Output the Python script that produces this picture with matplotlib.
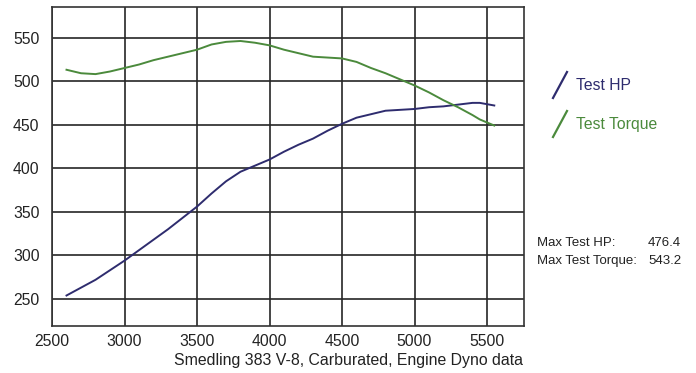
import matplotlib
matplotlib.use("Agg")
import matplotlib.pyplot as plt
from matplotlib.lines import Line2D

plt.rcParams['font.family'] = ['Liberation Sans', 'DejaVu Sans']

rpm = [2600, 2700, 2800, 2900, 3000, 3100, 3200, 3300, 3400, 3500, 3600, 3700,
       3800, 3900, 4000, 4100, 4200, 4300, 4400, 4500, 4600, 4700, 4800, 4900,
       5000, 5100, 5200, 5300, 5400, 5450, 5550]
hp = [254, 263, 272, 283, 294, 306, 318, 330, 343, 356, 371, 385,
      396, 403, 410, 419, 427, 434, 443, 451, 458, 462, 466, 467,
      468, 470, 471, 473, 475, 475, 472]
torque = [513, 509, 508, 511, 515, 519, 524, 528, 532, 536, 542, 545,
          546, 544, 541, 536, 532, 528, 527, 526, 522, 515, 509, 502,
          495, 487, 478, 470, 461, 456, 449]
x_ticks = [2500, 3000, 3500, 4000, 4500, 5000, 5500]
y_ticks = [250, 300, 350, 400, 450, 500, 550]
max_hp = 476.4
max_torque = 543.2

hp_color = '#2e2c6e'
tq_color = '#4b8a3c'
txt_color = '#222222'

W, H = 696, 373
fig = plt.figure(figsize=(6.96, 3.73), dpi=100)
ax = fig.add_axes([52 / W, 1 - 326 / H, (524 - 52) / W, (326 - 7) / H])

ax.plot(rpm, hp, color=hp_color, lw=1.4)
ax.plot(rpm, torque, color=tq_color, lw=1.4)

ax.set_xlim(2500, 5755)
ax.set_ylim(219, 585)
ax.set_xticks(x_ticks)
ax.set_yticks(y_ticks)
ax.grid(True, color='#262626', lw=1.2)
ax.set_axisbelow(True)
for s in ax.spines.values():
    s.set_color('#333333')
    s.set_linewidth(1.2)
ax.tick_params(axis='y', length=0, labelsize=11.3, colors=txt_color, pad=9)
ax.tick_params(axis='x', length=0, labelsize=11.3, colors=txt_color, pad=6)

fig.text(523 / W, 1 - 361 / H, 'Smedling 383 V-8, Carburated, Engine Dyno data',
         fontsize=11.4, color=txt_color, ha='right', va='center')

# legend: slash marks + coloured labels
fig.add_artist(Line2D([553 / W, 567 / W], [1 - 98 / H, 1 - 72 / H],
                      color=hp_color, lw=1.6))
fig.text(576 / W, 1 - 85 / H, 'Test HP', fontsize=11.3, color=hp_color, va='center')
fig.add_artist(Line2D([553 / W, 567 / W], [1 - 137 / H, 1 - 111 / H],
                      color=tq_color, lw=1.6))
fig.text(576 / W, 1 - 124 / H, 'Test Torque', fontsize=11.3, color=tq_color,
         va='center')

# max values
fig.text(537 / W, 1 - 243 / H, 'Max Test HP:', fontsize=9.5, color=txt_color, va='center')
fig.text(648 / W, 1 - 243 / H, f'{max_hp}', fontsize=9.5, color=txt_color, va='center')
fig.text(537 / W, 1 - 261 / H, 'Max Test Torque:', fontsize=9.5, color=txt_color, va='center')
fig.text(648 / W, 1 - 261 / H, f'{max_torque}', fontsize=9.5, color=txt_color, va='center')

fig.savefig('out.png', dpi=100)
